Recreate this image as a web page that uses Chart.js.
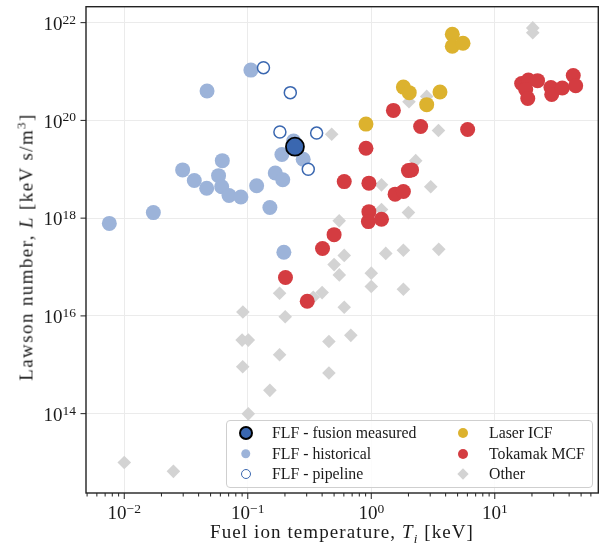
<!DOCTYPE html>
<html><head><meta charset="utf-8">
<script src="https://cdn.jsdelivr.net/npm/chart.js@4.4.1/dist/chart.umd.min.js"></script>
<style>
html,body{margin:0;padding:0;background:#fff;}
#wrap{position:relative;width:603px;height:549px;overflow:hidden;font-family:'Liberation Serif',serif;color:#1a1a1a;}
#c{position:absolute;left:0;top:0;}
.ytitle{position:absolute;left:26px;top:247px;transform:translate(-50%,-50%) rotate(-90deg);white-space:nowrap;font-size:19px;line-height:19px;letter-spacing:1.4px;}
.xtitle{position:absolute;left:342px;top:522px;transform:translateX(-50%);white-space:nowrap;font-size:19px;line-height:19px;letter-spacing:1.1px;}
sup{font-size:13px;line-height:0;}
sub{font-size:13px;line-height:0;}
#legend{position:absolute;left:226px;top:420px;width:365px;height:66px;border:1px solid #cfcfcf;border-radius:4px;background:rgba(255,255,255,0.85);font-size:15.8px;}
.it{position:absolute;height:20px;line-height:20px;white-space:nowrap;}
.mk{position:absolute;box-sizing:border-box;}
</style>
</head><body>
<div id="wrap">
<canvas id="c" width="603" height="549"></canvas>
<div class="ytitle">Lawson number, <i>L</i> [keV s/m<sup>3</sup>]</div>
<div class="xtitle">Fuel ion temperature, <i>T<sub>i</sub></i> [keV]</div>
<div id="legend"></div>
</div>
<script>
// ---- data ----
const measuredT = [0.241];
const measuredL = [2.9e19];

const historicalT = [0.00757, 0.0172, 0.0468, 0.106, 0.0297, 0.0369, 0.0465, 0.0622, 0.058, 0.0615, 0.0705, 0.088, 0.118, 0.151, 0.167, 0.192, 0.189, 0.196, 0.281, 0.235];
const historicalL = [7.8e17, 1.3e18, 4.0e20, 1.07e21, 9.7e18, 5.9e18, 4.1e18, 1.5e19, 7.4e18, 4.4e18, 2.9e18, 2.7e18, 4.6e18, 1.65e18, 8.4e18, 6.1e18, 2.0e19, 2.0e17, 1.6e19, 3.8e19];

const pipelineT = [0.134, 0.221, 0.182, 0.361, 0.309];
const pipelineL = [1.2e21, 3.7e20, 5.8e19, 5.5e19, 1.0e19];

const laserT = [4.53, 4.53, 5.53, 1.82, 2.03, 3.6, 2.81, 0.906];
const laserL = [5.8e21, 3.3e21, 3.8e21, 4.8e20, 3.7e20, 3.8e20, 2.1e20, 8.4e19];

const tokamakT = [1.51, 2.51, 6.03, 0.906, 0.604, 0.957, 2.0, 2.12, 1.56, 1.82, 0.957, 0.948, 1.21, 0.50, 0.403, 0.202, 0.303, 16.5, 18.7, 22.2, 17.8, 18.5, 28.5, 28.9, 35.2, 43.2, 45.2];
const tokamakL = [1.6e20, 7.5e19, 6.5e19, 2.7e19, 5.6e18, 5.2e18, 9.4e18, 9.7e18, 3.1e18, 3.5e18, 1.36e18, 8.5e17, 9.5e17, 4.6e17, 2.4e17, 6.1e16, 2.0e16, 5.7e20, 6.7e20, 6.5e20, 4.3e20, 2.8e20, 4.7e20, 3.4e20, 4.6e20, 8.3e20, 5.1e20];

const otherT = [20.3, 20.3, 2.02, 2.81, 0.478, 3.5, 2.29, 1.21, 3.03, 1.21, 2.0, 0.55, 0.604, 0.50, 0.551, 1.31, 1.82, 3.52, 1.0, 1.0, 1.82, 0.181, 0.40, 0.339, 0.604, 0.0913, 0.201, 0.090, 0.101, 0.454, 0.683, 0.181, 0.091, 0.454, 0.151, 0.101, 0.01, 0.025];
const otherL = [7.8e21, 6.2e21, 2.4e20, 3.1e20, 5.2e19, 6.2e19, 1.5e19, 4.8e18, 4.4e18, 1.5e18, 1.3e18, 8.8e17, 1.73e17, 1.12e17, 6.9e16, 1.9e17, 2.2e17, 2.3e17, 7.5e16, 4.0e16, 3.5e16, 2.9e16, 3.0e16, 2.4e16, 1.5e16, 1.2e16, 9.6e15, 3.2e15, 3.2e15, 3.0e15, 4.0e15, 1.6e15, 9.1e14, 6.8e14, 3.0e14, 9.9e13, 1.0e13, 6.6e12];

const seriesNames = ['FLF - fusion measured', 'FLF - historical', 'FLF - pipeline', 'Laser ICF', 'Tokamak MCF', 'Other'];

// tick values and their labels (written as base 10 with a raised exponent)
const xTickValues = [0.01, 0.1, 1, 10];
const xTickExponents = ['\u22122', '\u22121', '0', '1'];
const yTickValues = [1e14, 1e16, 1e18, 1e20, 1e22];
const yTickExponents = ['14', '16', '18', '20', '22'];

// ---- styles ----
const C_MEAS = '#3a67b0', C_HIST = '#9cb3d9', C_LASER = '#dcb22e', C_TOK = '#d43c41', C_OTHER = '#d3d3d3';
const BASE_FONT = '19px "Liberation Serif"', EXP_FONT = '13.5px "Liberation Serif"';

const pts = (xs, ys) => xs.map((v, i) => ({x: v, y: ys[i]}));

// minor tick positions for the log x axis (2..9 x decade)
const xMinorTicks = [];
for (let e = -3; e <= 1; e++) for (let m = 2; m <= 9; m++) xMinorTicks.push(m * Math.pow(10, e));

const noPad = s => { s.paddingTop = 0; s.paddingBottom = 0; s.paddingLeft = 0; s.paddingRight = 0; };

const frameTicks = {
  id: 'frameTicks',
  afterDatasetsDraw(chart) {
    const {ctx, chartArea: a, scales} = chart;
    const x = scales.x, y = scales.y;
    ctx.save();
    ctx.strokeStyle = '#222';
    ctx.lineWidth = 1;
    ctx.beginPath();
    xTickValues.forEach(v => { const p = x.getPixelForValue(v); ctx.moveTo(p, a.bottom); ctx.lineTo(p, a.bottom + 6); });
    xMinorTicks.forEach(v => { if (v < x.min || v > x.max) return; const p = x.getPixelForValue(v); ctx.moveTo(p, a.bottom); ctx.lineTo(p, a.bottom + 3.5); });
    yTickValues.forEach(v => { const p = y.getPixelForValue(v); ctx.moveTo(a.left - 5.5, p); ctx.lineTo(a.left, p); });
    ctx.stroke();
    ctx.lineWidth = 1.4;
    ctx.strokeRect(a.left, a.top, a.right - a.left, a.bottom - a.top);

    // tick labels: "10" with a raised exponent
    ctx.fillStyle = '#1a1a1a';
    ctx.textBaseline = 'alphabetic';
    ctx.textAlign = 'left';
    yTickValues.forEach((v, i) => {
      const p = y.getPixelForValue(v);
      ctx.font = EXP_FONT; const we = ctx.measureText(yTickExponents[i]).width;
      ctx.font = BASE_FONT; const wb = ctx.measureText('10').width;
      const right = a.left - 10;
      ctx.fillText('10', right - we - wb, p + 7.3);
      ctx.font = EXP_FONT; ctx.fillText(yTickExponents[i], right - we, p + 1);
    });
    xTickValues.forEach((v, i) => {
      const p = x.getPixelForValue(v);
      ctx.font = EXP_FONT; const we = ctx.measureText(xTickExponents[i]).width;
      ctx.font = BASE_FONT; const wb = ctx.measureText('10').width;
      const left = p - (we + wb) / 2;
      ctx.fillText('10', left, a.bottom + 26);
      ctx.font = EXP_FONT; ctx.fillText(xTickExponents[i], left + wb, a.bottom + 19.8);
    });
    ctx.restore();
  }
};

const chart = new Chart(document.getElementById('c'), {
  type: 'scatter',
  data: {
    datasets: [
      {label: seriesNames[0], data: pts(measuredT, measuredL), backgroundColor: C_MEAS, borderColor: '#000', borderWidth: 1.8, pointRadius: 9, order: 0},
      {label: seriesNames[2], data: pts(pipelineT, pipelineL), backgroundColor: '#fff', borderColor: C_MEAS, borderWidth: 1.5, pointRadius: 6, order: 1},
      {label: seriesNames[1], data: pts(historicalT, historicalL), backgroundColor: C_HIST, borderWidth: 0, pointRadius: 7.5, order: 2},
      {label: seriesNames[3], data: pts(laserT, laserL), backgroundColor: C_LASER, borderWidth: 0, pointRadius: 7.5, order: 3},
      {label: seriesNames[4], data: pts(tokamakT, tokamakL), backgroundColor: C_TOK, borderWidth: 0, pointRadius: 7.5, order: 4},
      {label: seriesNames[5], data: pts(otherT, otherL), backgroundColor: C_OTHER, borderWidth: 0, pointRadius: 6.8, pointStyle: 'rectRot', order: 5}
    ]
  },
  options: {
    responsive: false,
    animation: false,
    devicePixelRatio: 1,
    events: [],
    layout: {autoPadding: false, padding: {left: 0, right: 4.7, top: 6.7, bottom: 0}},
    plugins: {legend: {display: false}, tooltip: {enabled: false}},
    scales: {
      x: {
        type: 'logarithmic',
        min: 0.0049, max: 68.9,
        bounds: 'data',
        afterBuildTicks: s => { s.ticks = xTickValues.map(v => ({value: v})); },
        afterFit: s => { s.height = 56; noPad(s); },
        grid: {color: '#ebebeb', lineWidth: 1, drawTicks: false},
        border: {display: false},
        ticks: {display: false, autoSkip: false, maxRotation: 0}
      },
      y: {
        type: 'logarithmic',
        min: 2.38e12, max: 2.12e22,
        bounds: 'data',
        afterBuildTicks: s => { s.ticks = yTickValues.map(v => ({value: v})); },
        afterFit: s => { s.width = 86; noPad(s); },
        grid: {color: '#ebebeb', lineWidth: 1, drawTicks: false},
        border: {display: false},
        ticks: {display: false, autoSkip: false}
      }
    }
  },
  plugins: [frameTicks]
});

// ---- legend (two columns, inside plot) ----
const legendItems = [
  {name: seriesNames[0], col: 0, row: 0, css: 'width:14px;height:14px;border-radius:50%;background:' + C_MEAS + ';border:2px solid #000;'},
  {name: seriesNames[1], col: 0, row: 1, css: 'width:9.5px;height:9.5px;border-radius:50%;background:' + C_HIST + ';'},
  {name: seriesNames[2], col: 0, row: 2, css: 'width:10px;height:10px;border-radius:50%;background:#fff;border:1.5px solid ' + C_MEAS + ';'},
  {name: seriesNames[3], col: 1, row: 0, css: 'width:10px;height:10px;border-radius:50%;background:' + C_LASER + ';'},
  {name: seriesNames[4], col: 1, row: 1, css: 'width:10px;height:10px;border-radius:50%;background:' + C_TOK + ';'},
  {name: seriesNames[5], col: 1, row: 2, css: 'width:8px;height:8px;background:' + C_OTHER + ';transform:translate(-50%,-50%) rotate(45deg);', rot: true}
];
const lg = document.getElementById('legend');
const rowY = [11.5, 32.5, 53];
const markX = [18.5, 236];
const textX = [45, 262];
legendItems.forEach(it => {
  const m = document.createElement('div');
  m.className = 'mk';
  m.style.cssText = it.css + 'left:' + markX[it.col] + 'px;top:' + rowY[it.row] + 'px;' + (it.rot ? '' : 'transform:translate(-50%,-50%);');
  lg.appendChild(m);
  const t = document.createElement('div');
  t.className = 'it';
  t.style.left = textX[it.col] + 'px';
  t.style.top = (rowY[it.row] - 10) + 'px';
  t.textContent = it.name;
  lg.appendChild(t);
});
</script>
</body></html>
